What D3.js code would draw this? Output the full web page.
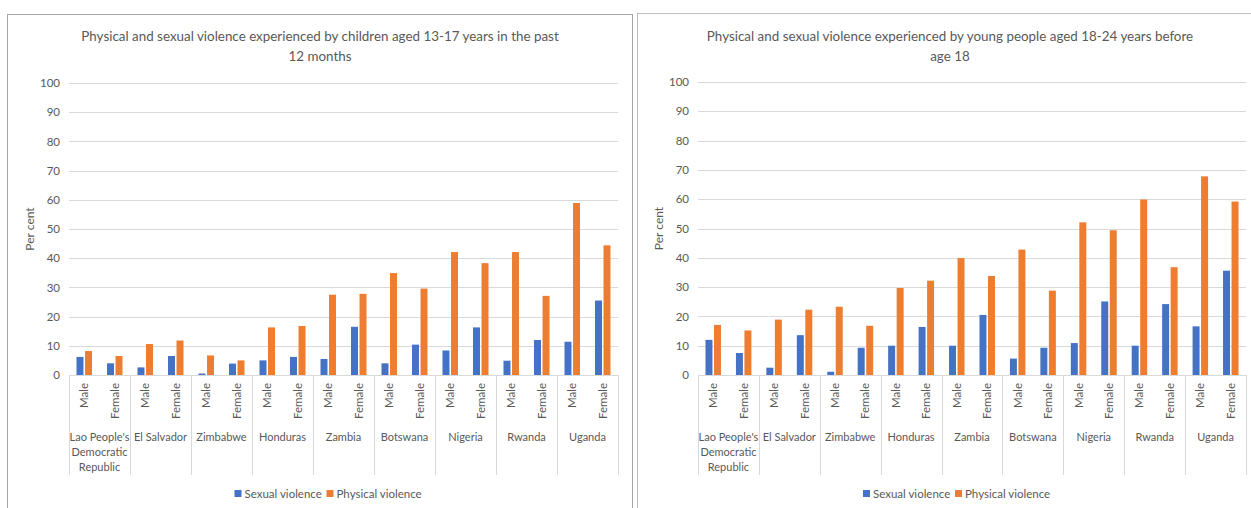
<!DOCTYPE html>
<html>
<head>
<meta charset="utf-8">
<script src="https://cdn.jsdelivr.net/npm/d3@7"></script>
<style>
  html, body { margin: 0; padding: 0; background: #ffffff; }
  svg text { font-family: Lato, "Open Sans", sans-serif; fill: #595959; }
</style>
</head>
<body>
<svg id="chart" width="1251" height="508"></svg>
<script>
// Countries on the outer level of the category axis (lines as wrapped under each group)
const countries = [
  "Lao People's Democratic Republic", "El Salvador", "Zimbabwe", "Honduras",
  "Zambia", "Botswana", "Nigeria", "Rwanda", "Uganda"
];
const countryLines = [
  ["Lao People's", "Democratic", "Republic"], ["El Salvador"], ["Zimbabwe"], ["Honduras"],
  ["Zambia"], ["Botswana"], ["Nigeria"], ["Rwanda"], ["Uganda"]
];
const sexes = ["Male", "Female"];
const seriesNames = ["Sexual violence", "Physical violence"];
const yTicks = [0, 10, 20, 30, 40, 50, 60, 70, 80, 90, 100];

// Children aged 13-17, past 12 months (Male, Female per country)
const childSexual   = [6.2, 4.0, 2.6, 6.5, 0.5, 3.9, 5.0, 6.2, 5.5, 16.5, 4.0, 10.4, 8.4, 16.3, 4.9, 12.0, 11.4, 25.5];
const childPhysical = [8.2, 6.5, 10.6, 11.8, 6.7, 5.0, 16.3, 16.8, 27.5, 27.8, 34.9, 29.6, 42.1, 38.3, 42.1, 27.1, 58.9, 44.4];

// Young people aged 18-24, before age 18 (Male, Female per country)
const youthSexual   = [12.0, 7.5, 2.5, 13.6, 1.1, 9.3, 10.0, 16.4, 10.0, 20.5, 5.6, 9.3, 10.9, 25.1, 10.0, 24.2, 16.6, 35.6];
const youthPhysical = [17.1, 15.2, 18.9, 22.3, 23.3, 16.8, 29.7, 32.2, 39.9, 33.8, 42.8, 28.8, 52.1, 49.4, 59.9, 36.8, 67.8, 59.2];

const titleChild = ["Physical and sexual violence experienced by children aged 13-17 years in the past", "12 months"];
const titleYouth = ["Physical and sexual violence experienced by young people aged 18-24 years before", "age 18"];

const colors = { "Sexual violence": "#4472C4", "Physical violence": "#ED7D31" };

const svg = d3.select("#chart");

function drawPanel(opts) {
  const { frame, x0Range, y0, y100, titleLines, titleX, sexual, physical, frameColor, ylabelX } = opts;

  const g = svg.append("g");

  // Chart area border
  g.append("rect")
    .attr("x", frame[0] + 0.5).attr("y", frame[1] + 0.5)
    .attr("width", frame[2]).attr("height", frame[3])
    .attr("fill", "#ffffff").attr("stroke", frameColor).attr("stroke-width", 1);

  const x0 = d3.scaleBand().domain(countries).range(x0Range).paddingInner(0).paddingOuter(0);
  const x1 = d3.scaleBand().domain(sexes).range([0, x0.bandwidth()]);
  const x2 = d3.scaleBand().domain(seriesNames).range([0, x1.bandwidth()])
    .paddingInner(0.18).paddingOuter(0.88);
  const y = d3.scaleLinear().domain([0, 100]).range([y0, y100]);

  // Horizontal gridlines
  g.append("g").selectAll("line").data(yTicks).join("line")
    .attr("x1", x0Range[0]).attr("x2", x0Range[1])
    .attr("y1", d => Math.round(y(d)) + 0.5).attr("y2", d => Math.round(y(d)) + 0.5)
    .attr("stroke", "#d9d9d9").attr("stroke-width", 1);

  // Value axis labels
  const yAxis = d3.axisLeft(y).tickValues(yTicks).tickSize(0).tickPadding(9);
  const ya = g.append("g").attr("transform", `translate(${x0Range[0]},0)`).call(yAxis);
  ya.select(".domain").remove();
  ya.selectAll("text").attr("font-size", 11.5).style("fill", "#595959")
    .style("font-family", 'Lato, "Open Sans", sans-serif');

  // Axis title
  g.append("text")
    .attr("transform", `translate(${ylabelX},${(y0 + y100) / 2}) rotate(-90)`)
    .attr("text-anchor", "middle").attr("font-size", 12)
    .text("Per cent");

  // Bars
  const rows = [];
  countries.forEach((c, ci) => {
    sexes.forEach((s, si) => {
      const idx = ci * 2 + si;
      rows.push({ country: c, sex: s, series: "Sexual violence", value: sexual[idx] });
      rows.push({ country: c, sex: s, series: "Physical violence", value: physical[idx] });
    });
  });
  g.append("g").selectAll("rect").data(rows).join("rect")
    .attr("x", d => x0(d.country) + x1(d.sex) + x2(d.series))
    .attr("width", x2.bandwidth())
    .attr("y", d => y(d.value))
    .attr("height", d => y(0) - y(d.value))
    .attr("fill", d => colors[d.series]);

  // Multi-level category axis: group dividers
  const dividerBottom = y0 + 100;
  const bounds = countries.map(c => x0(c)).concat([x0Range[1]]);
  g.append("g").selectAll("line").data(bounds).join("line")
    .attr("x1", d => Math.round(d) + 0.5).attr("x2", d => Math.round(d) + 0.5)
    .attr("y1", y0).attr("y2", dividerBottom)
    .attr("stroke", "#d9d9d9").attr("stroke-width", 1);

  // Sex labels (rotated)
  const sexLabels = [];
  countries.forEach(c => sexes.forEach(s => sexLabels.push({ country: c, sex: s })));
  g.append("g").selectAll("text").data(sexLabels).join("text")
    .attr("transform", d => `translate(${x0(d.country) + x1(d.sex) + x1.bandwidth() / 2 + 4},${y0 + 8}) rotate(-90)`)
    .attr("text-anchor", "end").attr("font-size", 11.5)
    .text(d => d.sex);

  // Country labels
  const cg = g.append("g").selectAll("text").data(countries).join("text")
    .attr("text-anchor", "middle").attr("font-size", 11)
    .attr("x", d => x0(d) + x0.bandwidth() / 2)
    .attr("y", y0 + 66);
  cg.each(function (d, i) {
    const t = d3.select(this);
    countryLines[i].forEach((line, li) => {
      t.append("tspan").attr("x", x0(d) + x0.bandwidth() / 2).attr("dy", li === 0 ? 0 : 15).text(line);
    });
  });

  // Title
  g.append("g").selectAll("text").data(titleLines).join("text")
    .attr("x", titleX).attr("y", (d, i) => 41 + i * 20)
    .attr("text-anchor", "middle").attr("font-size", 13.4)
    .text(d => d);

  // Legend
  const legendX = (x0Range[0] + x0Range[1]) / 2 - 109;
  const lg = g.append("g").attr("transform", `translate(${legendX},${y0 + 115})`);
  const offsets = [0, 92];
  seriesNames.forEach((name, i) => {
    lg.append("rect").attr("x", offsets[i]).attr("y", 0).attr("width", 7).attr("height", 7)
      .attr("fill", colors[name]);
    lg.append("text").attr("x", offsets[i] + 10).attr("y", 7.5).attr("font-size", 11.5).text(name);
  });
}

drawPanel({
  frame: [7, 14, 625, 500], x0Range: [69, 618], y0: 375, y100: 83,
  titleLines: titleChild, titleX: 320,
  sexual: childSexual, physical: childPhysical, frameColor: "#a6a6a6", ylabelX: 34
});

drawPanel({
  frame: [637, 13, 625, 500], x0Range: [698, 1246], y0: 375, y100: 82,
  titleLines: titleYouth, titleX: 950,
  sexual: youthSexual, physical: youthPhysical, frameColor: "#bfbfbf", ylabelX: 663
});
</script>
</body>
</html>
